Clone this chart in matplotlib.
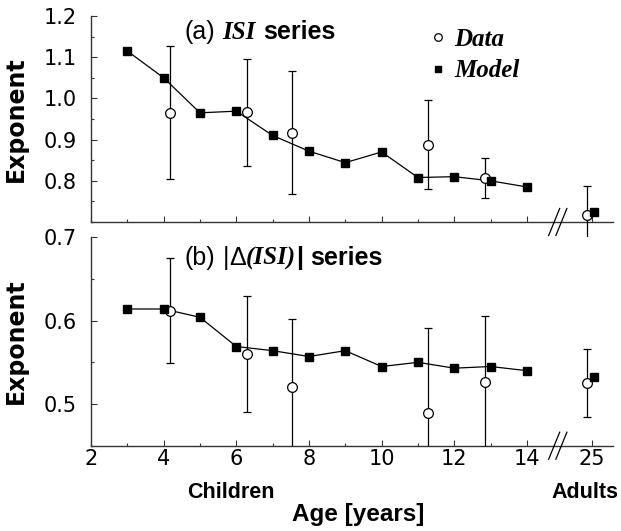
import numpy as np
import matplotlib
matplotlib.use("Agg")
import matplotlib.pyplot as plt
from matplotlib.ticker import MultipleLocator, FixedLocator
import matplotlib.transforms as mtransforms

# ---------------- data ----------------
model_ages = [3, 4, 5, 6, 7, 8, 9, 10, 11, 12, 13, 14]
model_isi = [1.115, 1.050, 0.965, 0.969, 0.910, 0.872, 0.844, 0.870, 0.808, 0.810, 0.800, 0.785]
model_disi = [0.614, 0.614, 0.604, 0.569, 0.564, 0.557, 0.564, 0.545, 0.550, 0.543, 0.545, 0.540]
model_adult_age = 25.07
model_adult_isi = 0.724
model_adult_disi = 0.532

data_ages = [4.17, 6.29, 7.53, 11.28, 12.85, 24.87]
data_isi = [0.965, 0.966, 0.917, 0.888, 0.807, 0.717]
data_isi_err = [0.161, 0.130, 0.150, 0.108, 0.048, 0.071]
data_disi = [0.612, 0.560, 0.520, 0.489, 0.527, 0.525]
data_disi_err = [0.063, 0.070, 0.082, 0.102, 0.079, 0.041]

xtick_vals = [2, 4, 6, 8, 10, 12, 14, 25]
xtick_labels = ["2", "4", "6", "8", "10", "12", "14", "25"]
minor_xticks = [3, 5, 7, 9, 11, 13]

# ---------------- helpers ----------------
ADULT_POS = 15.78  # where age 25 sits on the broken axis
BREAK_POS = 14.85

def xmap(a):
    a = np.atleast_1d(np.asarray(a, dtype=float))
    return np.where(a > 20, ADULT_POS + (a - 25.0), a)

W, H = 621, 531
fig = plt.figure(figsize=(W / 100, H / 100), dpi=100)

ax1 = fig.add_axes([91 / W, 1 - 222 / H, 522 / W, 206 / H])
ax2 = fig.add_axes([91 / W, 1 - 445.7 / H, 522 / W, 208.4 / H])

SANS = "Liberation Sans"
SERIF = "Liberation Serif"
plt.rcParams["font.family"] = [SANS, "DejaVu Sans"]

def style_axes(ax, ylim, major, minor):
    ax.set_xlim(2, 16.37)
    ax.set_ylim(*ylim)
    for s in ["top", "right"]:
        ax.spines[s].set_visible(False)
    for s in ["left", "bottom"]:
        ax.spines[s].set_color("#333333")
        ax.spines[s].set_linewidth(1.0)
    ax.xaxis.set_major_locator(FixedLocator(list(xmap(xtick_vals))))
    ax.xaxis.set_minor_locator(FixedLocator(list(xmap(minor_xticks))))
    ax.yaxis.set_major_locator(MultipleLocator(major))
    ax.yaxis.set_minor_locator(MultipleLocator(minor))
    ax.tick_params(axis="both", which="both", direction="in", color="#333333", width=0.8)
    ax.tick_params(axis="both", which="major", length=4)
    ax.tick_params(axis="both", which="minor", length=2.5)
    ax.tick_params(axis="y", which="major", labelsize=15, pad=10)
    ax.tick_params(axis="x", which="major", labelsize=15, pad=2.5)
    # axis break marks
    bt = mtransforms.blended_transform_factory(ax.transData, ax.transAxes)
    hpx = ax.get_position().height * H
    hh = 13.5 / hpx
    dx = 5.5 / 36.33
    for off in (-3.6 / 36.33, 3.6 / 36.33):
        ax.plot([BREAK_POS + off - dx, BREAK_POS + off + dx], [-hh, hh],
                transform=bt, color="black", lw=0.9, clip_on=False, zorder=6)

style_axes(ax1, (0.7, 1.2), 0.1, 0.05)
style_axes(ax2, (0.45, 0.7), 0.1, 0.05)

ax1.set_yticks([0.8, 0.9, 1.0, 1.1, 1.2])
ax1.yaxis.set_major_formatter(matplotlib.ticker.FormatStrFormatter("%.1f"))
ax1.tick_params(axis="x", labelbottom=False)
ax2.set_yticks([0.5, 0.6, 0.7])
ax2.yaxis.set_major_formatter(matplotlib.ticker.FormatStrFormatter("%.1f"))
ax2.set_xticks(list(xmap(xtick_vals)))
ax2.set_xticklabels(xtick_labels)

def draw_panel(ax, mvals, madult, dvals, derr, clip_bars):
    ax.plot(xmap(model_ages), mvals, color="black", lw=0.9, zorder=2)
    handles = []
    for i, (xa, y, e) in enumerate(zip(data_ages, dvals, derr)):
        eb = ax.errorbar(xmap(xa), [y], yerr=[e], fmt="o", ms=7, mfc="white",
                         mec="black", mew=0.9, ecolor="black", elinewidth=0.9,
                         capsize=3, capthick=0.9, zorder=3)
        if not clip_bars and xa > 20:
            for art in eb.lines[1] + eb.lines[2]:
                art.set_clip_on(False)
            eb.lines[0].set_clip_on(False)
        handles.append(eb)
    mk, = ax.plot(xmap(model_ages + [model_adult_age]), mvals + [madult], ls="none",
                  marker="s", ms=5.5, color="black", zorder=4, clip_on=False)
    return handles[0].lines[0], mk

h_data, h_model = draw_panel(ax1, model_isi, model_adult_isi, data_isi, data_isi_err, False)
draw_panel(ax2, model_disi, model_adult_disi, data_disi, data_disi_err, True)

leg = ax1.legend([h_data, h_model], ["Data", "Model"], loc="upper left",
                 bbox_to_anchor=(430 / W, 1 - 28 / H), bbox_transform=fig.transFigure,
                 frameon=False, handlelength=0.6, handletextpad=0.37, labelspacing=0.33,
                 borderpad=0, borderaxespad=0, markerscale=0.78,
                 prop=dict(family=SERIF, weight="bold", style="italic", size=18))

ax1.set_ylabel("Exponent", fontsize=17, fontweight="bold")
ax2.set_ylabel("Exponent", fontsize=17, fontweight="bold")
ax1.yaxis.set_label_coords(-0.1207, 0.5)
ax2.yaxis.set_label_coords(-0.1207, 0.5)

fig.text(230.5 / W, 1 - 498 / H, "Children", ha="center", va="baseline", fontsize=15.5, fontweight="bold")
fig.text(585 / W, 1 - 498 / H, "Adults", ha="center", va="baseline", fontsize=15.5, fontweight="bold")
fig.text(358 / W, 1 - 521 / H, "Age [years]", ha="center", va="baseline", fontsize=17.5, fontweight="bold")

# rich titles
renderer = fig.canvas.get_renderer()

def rich(x_px, y_px, pieces):
    x = x_px
    for s, gap, kw in pieces:
        t = fig.text(x / W, 1 - y_px / H, s, ha="left", va="baseline", **kw)
        bb = t.get_window_extent(renderer)
        x = bb.x1 + gap

TS = 18
reg = dict(family=SANS, fontsize=TS)
bsans = dict(family=SANS, fontsize=TS, fontweight="bold")
bi = dict(family=SERIF, fontsize=TS, fontweight="bold", style="italic")
sp = 0.278 * TS * 100 / 72

rich(185, 39, [("(a)", sp, reg), ("ISI", sp, bi), ("series", 0, bsans)])
rich(185, 265, [("(b)", sp, reg), ("|", 0, reg), ("\u0394", 0, reg), ("(ISI)", 0, bi),
                ("|", sp, bsans), ("series", 0, bsans)])

fig.savefig("out.png", dpi=100)
